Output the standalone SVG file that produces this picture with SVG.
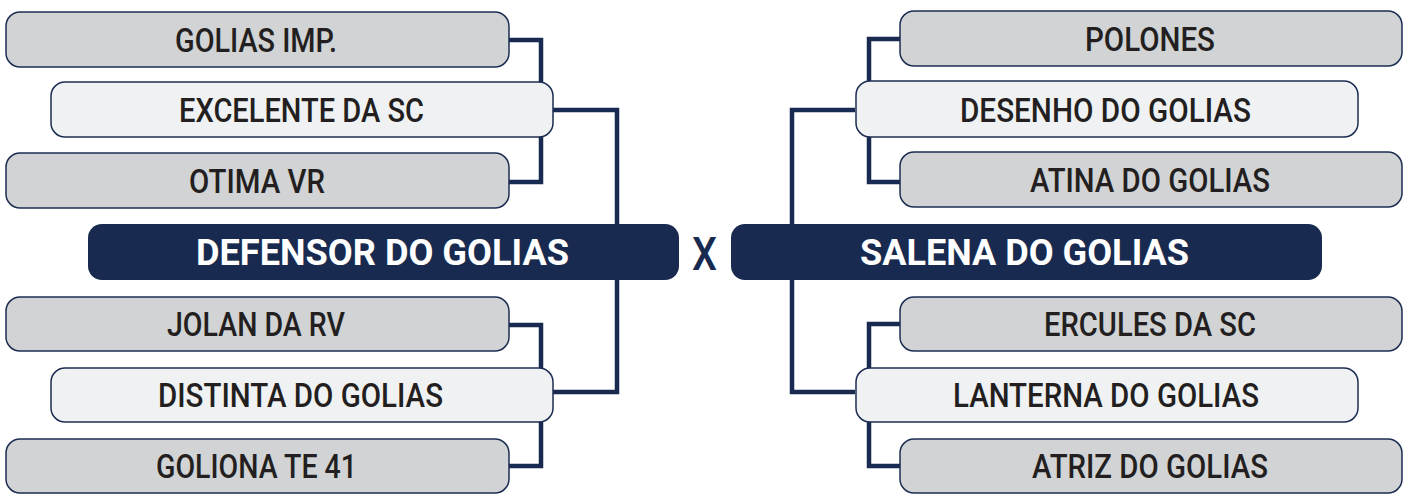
<svg xmlns="http://www.w3.org/2000/svg" width="1408" height="494" viewBox="0 0 1408 494">
<style>
.lt{fill:#d1d3d5;stroke:#1c2d52;stroke-width:1.5}
.li{fill:#f0f1f3;stroke:#1c2d52;stroke-width:1.5}
.dk{fill:#182a4f}
.tx{font-family:Roboto,"Liberation Sans",sans-serif;font-weight:500;font-size:34px;fill:#231f20}
.tb{font-family:Roboto,"Liberation Sans",sans-serif;font-weight:700;font-size:36px;fill:#ffffff}
.cn{fill:none;stroke:#182a4f;stroke-width:4.5;stroke-linejoin:miter}
</style>
<rect width="1408" height="494" fill="#ffffff"/>
<g id="connectors">
<path class="cn" d="M509,40 H541 V182 H509"/>
<path class="cn" d="M553,110 H617 V392 H553"/>
<path class="cn" d="M509,325 H541 V466 H509"/>
<path class="cn" d="M900,39 H869 V182 H900"/>
<path class="cn" d="M855,110 H792 V392 H855"/>
<path class="cn" d="M900,324 H869 V466 H900"/>
</g>
<g id="golias-imp"><rect class="lt" x="6" y="12" width="503" height="55" rx="14"/><text class="tx" x="175" y="52" textLength="162" lengthAdjust="spacingAndGlyphs">GOLIAS IMP.</text></g>
<g id="excelente"><rect class="li" x="51" y="82" width="502" height="55" rx="14"/><text class="tx" x="179" y="122" textLength="245" lengthAdjust="spacingAndGlyphs">EXCELENTE DA SC</text></g>
<g id="otima"><rect class="lt" x="6" y="153" width="503" height="55" rx="14"/><text class="tx" x="189" y="193" textLength="136" lengthAdjust="spacingAndGlyphs">OTIMA VR</text></g>
<g id="defensor"><rect class="dk" x="88" y="224" width="591" height="56" rx="14"/><text class="tb" x="196" y="265" textLength="373" lengthAdjust="spacingAndGlyphs">DEFENSOR DO GOLIAS</text></g>
<g id="jolan"><rect class="lt" x="6" y="297" width="503" height="54" rx="14"/><text class="tx" x="167" y="336" textLength="178" lengthAdjust="spacingAndGlyphs">JOLAN DA RV</text></g>
<g id="distinta"><rect class="li" x="51" y="368" width="502" height="54" rx="14"/><text class="tx" x="158" y="407" textLength="285" lengthAdjust="spacingAndGlyphs">DISTINTA DO GOLIAS</text></g>
<g id="goliona"><rect class="lt" x="6" y="439" width="503" height="54" rx="14"/><text class="tx" x="156" y="478" textLength="201" lengthAdjust="spacingAndGlyphs">GOLIONA TE 41</text></g>
<g id="versus"><text x="692" y="270" textLength="25" lengthAdjust="spacingAndGlyphs" style="font-family:Roboto,'Liberation Sans',sans-serif;font-weight:500;font-size:46px;fill:#182a4f">X</text></g>
<g id="polones"><rect class="lt" x="900" y="11" width="502" height="55" rx="14"/><text class="tx" x="1085" y="51" textLength="130" lengthAdjust="spacingAndGlyphs">POLONES</text></g>
<g id="desenho"><rect class="li" x="856" y="81" width="502" height="56" rx="14"/><text class="tx" x="960" y="122" textLength="291" lengthAdjust="spacingAndGlyphs">DESENHO DO GOLIAS</text></g>
<g id="atina"><rect class="lt" x="900" y="152" width="502" height="55" rx="14"/><text class="tx" x="1030" y="192" textLength="240" lengthAdjust="spacingAndGlyphs">ATINA DO GOLIAS</text></g>
<g id="salena"><rect class="dk" x="731" y="224" width="591" height="56" rx="14"/><text class="tb" x="860" y="265" textLength="329" lengthAdjust="spacingAndGlyphs">SALENA DO GOLIAS</text></g>
<g id="ercules"><rect class="lt" x="900" y="297" width="502" height="54" rx="14"/><text class="tx" x="1044" y="336" textLength="212" lengthAdjust="spacingAndGlyphs">ERCULES DA SC</text></g>
<g id="lanterna"><rect class="li" x="856" y="368" width="502" height="54" rx="14"/><text class="tx" x="953" y="407" textLength="306" lengthAdjust="spacingAndGlyphs">LANTERNA DO GOLIAS</text></g>
<g id="atriz"><rect class="lt" x="900" y="439" width="502" height="54" rx="14"/><text class="tx" x="1032" y="478" textLength="236" lengthAdjust="spacingAndGlyphs">ATRIZ DO GOLIAS</text></g>
</svg>
